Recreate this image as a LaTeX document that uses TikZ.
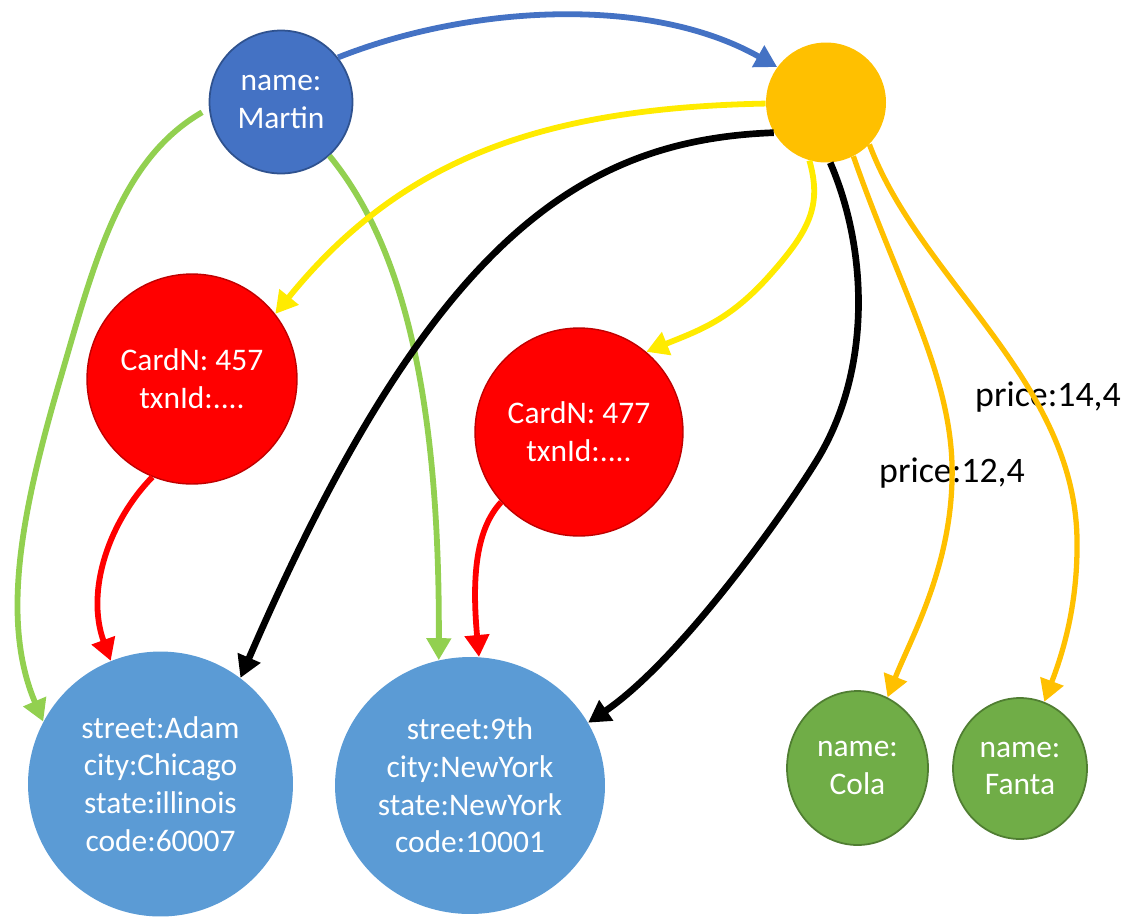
\documentclass[tikz,border=0pt]{standalone}
\usepackage{fontspec}
\setmainfont{Carlito}
\usetikzlibrary{arrows.meta,shapes.geometric}
\definecolor{g_blue}{RGB}{68, 114, 196}
\definecolor{g_blueline}{RGB}{47, 82, 143}
\definecolor{g_orange}{RGB}{255, 192, 0}
\definecolor{g_red}{RGB}{255, 0, 0}
\definecolor{g_redline}{RGB}{192, 0, 0}
\definecolor{g_sky}{RGB}{91, 155, 213}
\definecolor{g_green}{RGB}{112, 173, 71}
\definecolor{g_greenline}{RGB}{80, 126, 50}
\definecolor{g_lime}{RGB}{146, 208, 80}
\definecolor{g_yellow}{RGB}{255, 235, 0}
\tikzstyle{nd}=[inner sep=0pt,text=white,align=center,
  font=\fontsize{17.9}{21.5}\selectfont]
\tikzstyle{pn}=[nd,circle,fill=g_blue,draw=g_blueline,line width=1pt]
\tikzstyle{hn}=[nd,circle,fill=g_orange]
\tikzstyle{cn}=[nd,circle,fill=g_red,draw=g_redline,line width=0.8pt]
\tikzstyle{an}=[nd,ellipse,fill=g_sky]
\tikzstyle{gn}=[nd,ellipse,fill=g_green,draw=g_greenline,line width=1pt]
\tikzstyle{lb}=[inner sep=0pt,font=\fontsize{20.4}{24}\selectfont]
\tikzstyle{ln}=[line width=3.3pt,-{Triangle[length=12.5pt,width=13.5pt]}]
\tikzstyle{bl}=[ln,draw=g_blue]
\tikzstyle{gr}=[ln,draw=g_lime]
\tikzstyle{yl}=[ln,draw=g_yellow]
\tikzstyle{og}=[ln,line width=3pt,draw=g_orange]
\tikzstyle{rd}=[ln,draw=g_red]
\tikzstyle{bk}=[ln,line width=3.8pt,draw=black]

\begin{document}
\begin{tikzpicture}[x=0.02cm, y=-0.02cm]
            \useasboundingbox (0,0) rectangle (1124,917);
            \node [style=pn, minimum size=2.86cm] (martin) at (281, 102) {name:\\Martin};
            \node [style=hn, minimum size=2.4cm] (hub) at (826, 102.5) {};
            \node [style=cn, minimum size=4.2cm] (card1) at (192, 379) {CardN: 457\\txnId:....};
            \node [style=cn, minimum size=4.16cm] (card2) at (579, 432) {CardN: 477\\txnId:....};
            \node [style=an, minimum width=5.3cm, minimum height=5.3cm] (addr1) at (160.5, 784) {street:Adam\\city:Chicago\\state:illinois\\code:60007};
            \node [style=an, minimum width=5.4cm, minimum height=5.14cm] (addr2) at (470, 785.5) {street:9th\\city:NewYork\\state:NewYork\\code:10001};
            \node [style=gn, minimum width=2.82cm, minimum height=3.08cm] (cola) at (857.5, 768) {name:\\Cola};
            \node [style=gn, minimum width=2.68cm, minimum height=2.82cm] (fanta) at (1020, 768.5) {name:\\Fanta};
            \node [style=lb] (p14) at (1048, 397) {price:14,4};
            \node [style=lb] (p12) at (952, 473) {price:12,4};
            % edges
            \draw [style=bl] (martin.38) .. controls (470,5) and (650,-5) .. (hub.144);
            \draw [style=gr, shorten <=4.5pt] (martin.185) .. controls (120,160) and (95,260) .. (60,380)
                .. controls (22,510) and (0,620) .. (addr1.152);
            \draw [style=gr] (martin.312) .. controls (390,230) and (440,360) .. (addr2.104);
            \draw [style=yl] (hub.181) .. controls (540,108) and (400,160) .. (card1.38);
            \draw [style=yl] (hub.254) .. controls (822,205) and (810,230) .. (770,275)
                .. controls (730,320) and (700,330) .. (card2.50);
            \draw [style=bk] (hub.210) .. controls (580,140) and (430,240) .. (addr1.53);
            \draw [style=bk] (hub.274) .. controls (868,250) and (872,370) .. (817,460)
                .. controls (784,514) and (680,660) .. (addr2.28);
            \draw [style=og] (hub.297) .. controls (900,290) and (955,380) .. (952,480)
                .. controls (950,570) and (910,640) .. (cola.67);
            \draw [style=og] (hub.316) .. controls (920,280) and (1075,380) .. (1077,540)
                .. controls (1078,610) and (1060,660) .. (fanta.70);
            \draw [style=rd] (card1.248) .. controls (110,520) and (85,590) .. (addr1.112);
            \draw [style=rd] (card2.222) .. controls (475,530) and (472,580) .. (addr2.86);
\end{tikzpicture}
\end{document}
